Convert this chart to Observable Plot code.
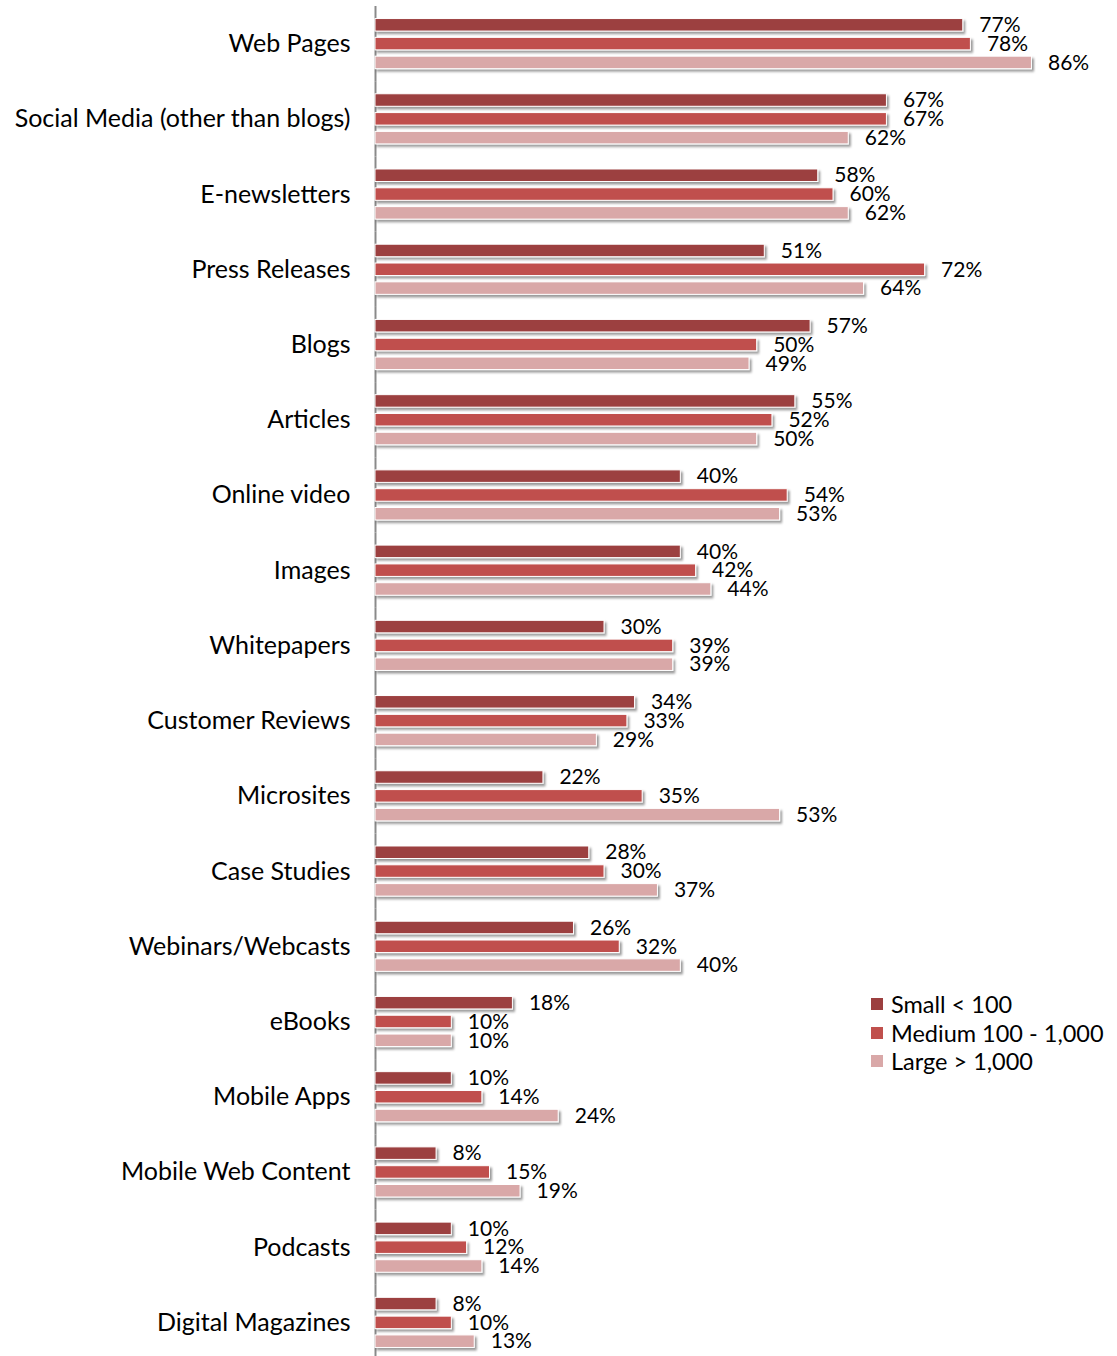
<!DOCTYPE html>
<html><head><meta charset="utf-8">
<script src="https://cdn.jsdelivr.net/npm/d3@7"></script>
<script src="https://cdn.jsdelivr.net/npm/@observablehq/plot@0.6"></script>
<style>
html,body{margin:0;padding:0;background:#fff;overflow:hidden;}
#wrap{position:relative;width:1117px;height:1356px;overflow:hidden;}
#legend{position:absolute;left:871px;top:990px;font-family:Lato,sans-serif;font-size:23.5px;color:#000;line-height:28.5px;}
#legend .item{display:flex;align-items:center;white-space:nowrap;}
#legend .sw{width:12px;height:12px;margin-right:8px;}
</style></head><body><div id="wrap"></div>
<script>
const categories = ["Web Pages","Social Media (other than blogs)","E-newsletters","Press Releases","Blogs","Articles","Online video","Images","Whitepapers","Customer Reviews","Microsites","Case Studies","Webinars/Webcasts","eBooks","Mobile Apps","Mobile Web Content","Podcasts","Digital Magazines"];
const series = ["Small < 100","Medium 100 - 1,000","Large > 1,000"];
const small  = [77,67,58,51,57,55,40,40,30,34,22,28,26,18,10,8,10,8];
const medium = [78,67,60,72,50,52,54,42,39,33,35,30,32,10,14,15,12,10];
const large  = [86,62,62,64,49,50,53,44,39,29,53,37,40,10,24,19,14,13];
const colors = ["#9c3f3f","#c0504d","#d9a8a8"];

const data = categories.flatMap((c,i)=>[
  {category:c, series:series[0], value:small[i]},
  {category:c, series:series[1], value:medium[i]},
  {category:c, series:series[2], value:large[i]}
]);

const chart = Plot.plot({
  width:1117, height:1360,
  marginTop:6, marginBottom:0, marginLeft:375, marginRight:55,
  x:{domain:[0,90], axis:null},
  y:{domain:series, axis:null, paddingInner:0.335, paddingOuter:0.667, round:false},
  fy:{domain:categories, padding:0, label:null, axis:"left", tickSize:0, tickPadding:25, round:false},
  color:{domain:series, range:colors},
  facet:{data, y:"category", marginTop:0, marginBottom:0, marginLeft:0, marginRight:0},
  marks:[
    Plot.ruleX([0], {stroke:"#8a8a8a", strokeWidth:2}),
    Plot.barX(data, {x:"value", y:"series", fill:"series", stroke:"white", strokeWidth:1}),
    Plot.text(data, {x:"value", y:"series", text:d=>d.value+"%", textAnchor:"start", dx:16, fontSize:21, fill:"black"})
  ],
  style:{fontFamily:"Lato, sans-serif", fontSize:"25px", color:"black", background:"white", overflow:"visible"}
});

const svg = d3.select(chart);
const defs = svg.insert("defs", ":first-child");
const f = defs.append("filter").attr("id","shadow").attr("x","-5%").attr("y","-50%").attr("width","120%").attr("height","250%");
f.append("feDropShadow").attr("dx",2).attr("dy",2.5).attr("stdDeviation",1.3).attr("flood-color","#000").attr("flood-opacity",0.4);
svg.selectAll("g[aria-label=bar] rect").attr("filter","url(#shadow)");

const wrap = document.getElementById("wrap");
wrap.appendChild(chart);
const legend = d3.select(wrap).append("div").attr("id","legend");
series.forEach((s,i)=>{
  const it = legend.append("div").attr("class","item");
  it.append("div").attr("class","sw").style("background",colors[i]);
  it.append("span").text(s);
});
</script></body></html>
